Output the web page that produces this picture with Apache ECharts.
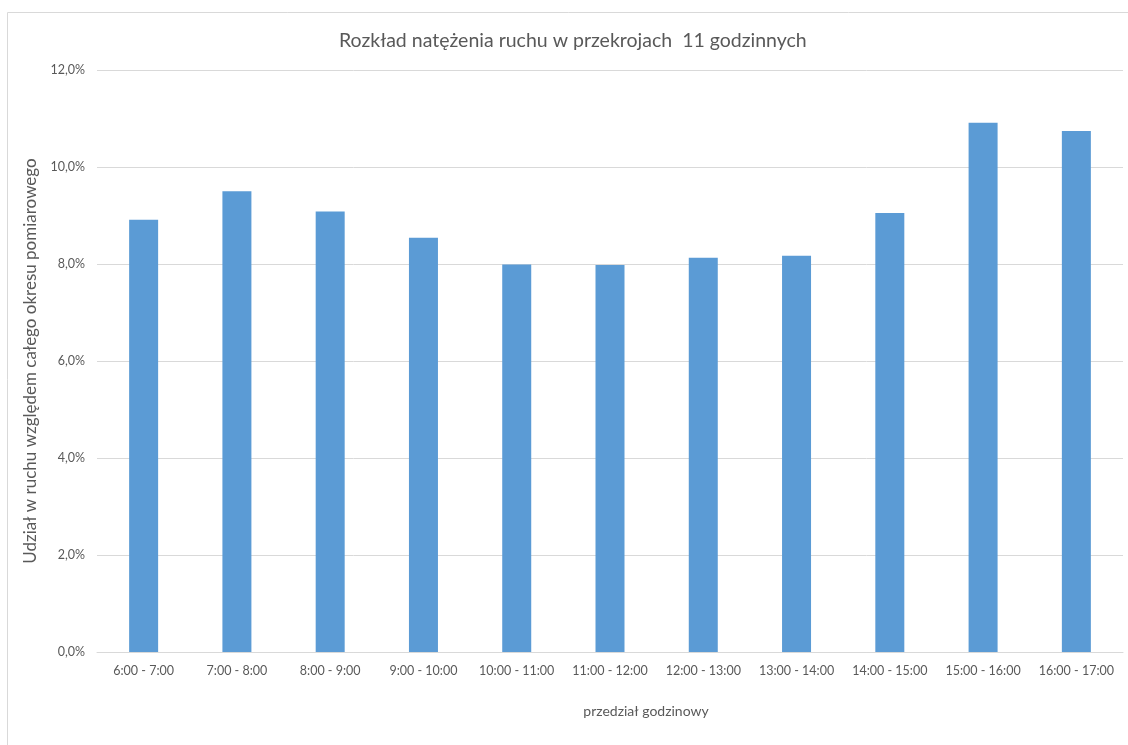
<!DOCTYPE html>
<html>
<head>
<meta charset="utf-8">
<script src="https://cdn.jsdelivr.net/npm/echarts@6/dist/echarts.min.js"></script>
<style>
html,body{margin:0;padding:0;background:#fff;}
#m1{width:1128px;height:745px;}
</style>
</head>
<body>
<div id="m1"></div>
<script>
var godziny=['6:00 - 7:00','7:00 - 8:00','8:00 - 9:00','9:00 - 10:00','10:00 - 11:00','11:00 - 12:00','12:00 - 13:00','13:00 - 14:00','14:00 - 15:00','15:00 - 16:00','16:00 - 17:00'];
var udzial=[8.91,9.50,9.08,8.54,7.99,7.98,8.13,8.17,9.05,10.91,10.74];

var font='Lato';
var myChart=echarts.init(document.getElementById('m1'));
var option={
    animation:false,
    title:{
        text:'Rozkład natężenia ruchu w przekrojach  11 godzinnych',
        left:334,
        top:26,
        textStyle:{fontFamily:font,fontSize:19.5,fontWeight:'normal',color:'#595959'}
    },
    graphic:[{
        type:'rect',
        shape:{x:7.5,y:12.5,width:1140,height:760},
        style:{fill:null,stroke:'#d9d9d9',lineWidth:1},
        silent:true
    }],
    grid:{left:97,right:5,top:70,bottom:93},
    xAxis:{
        type:'category',
        data:godziny,
        name:'przedział godzinowy',
        nameLocation:'middle',
        nameGap:52,
        nameTextStyle:{fontFamily:font,fontSize:14,color:'#595959',padding:[0,0,0,72]},
        axisLine:{lineStyle:{color:'#d9d9d9'}},
        axisTick:{show:false},
        axisLabel:{fontFamily:font,fontSize:12.5,color:'#595959',margin:12,interval:0}
    },
    yAxis:{
        type:'value',
        min:0,
        max:12,
        interval:2,
        name:'Udział w ruchu względem całego okresu pomiarowego',
        nameLocation:'middle',
        nameGap:58,
        nameTextStyle:{fontFamily:font,fontSize:17,color:'#595959'},
        axisLine:{show:false},
        axisTick:{show:false},
        splitLine:{lineStyle:{color:'#d9d9d9'}},
        axisLabel:{
            fontFamily:font,fontSize:12.5,color:'#595959',margin:12,
            formatter:function(v){return v.toFixed(1).replace('.',',')+'%';}
        }
    },
    series:[{
        type:'bar',
        data:udzial,
        barWidth:29,
        itemStyle:{color:'#5b9bd5'}
    }]
};
myChart.setOption(option);
</script>
</body>
</html>
